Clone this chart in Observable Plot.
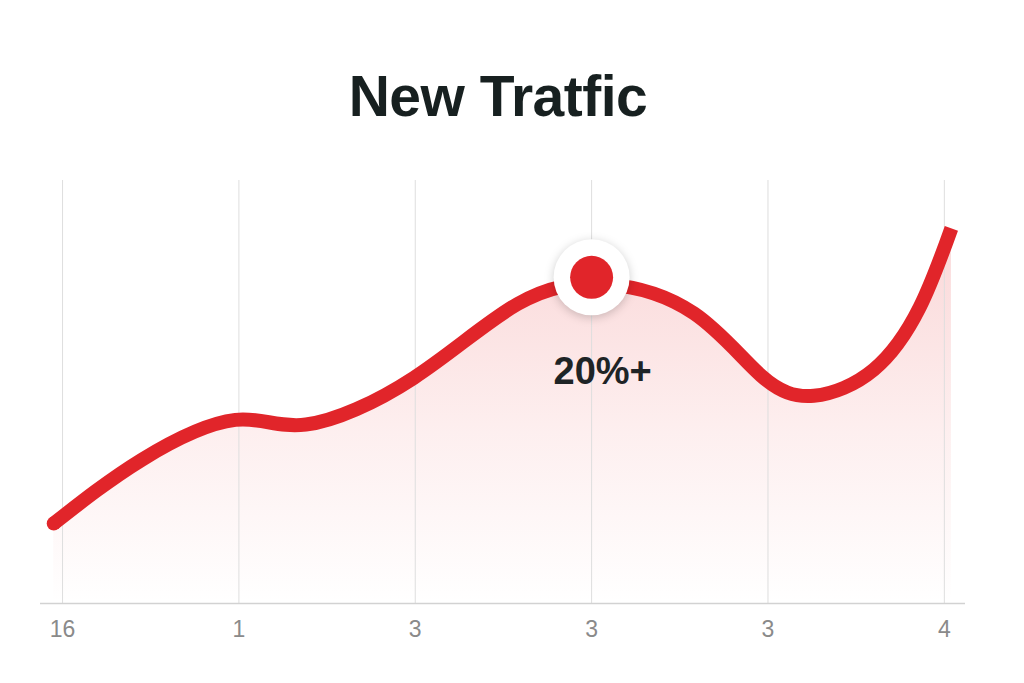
<!DOCTYPE html>
<html>
<head>
<meta charset="utf-8">
<script src="https://cdn.jsdelivr.net/npm/d3@7"></script>
<script src="https://cdn.jsdelivr.net/npm/@observablehq/plot@0.6"></script>
<style>
  html, body { margin: 0; padding: 0; background: #ffffff; width: 1024px; height: 683px; overflow: hidden; }
  #title { position: absolute; top: 68px; left: 0; width: 996px; text-align: center;
           font-family: "Liberation Sans", Arial, sans-serif; font-weight: 700; font-size: 57px;
           line-height: 57px; letter-spacing: -0.5px; color: #172020; }
  #chart { position: absolute; top: 150px; left: 0; }
</style>
</head>
<body>
<div id="title">New Tratfic</div>
<div id="chart"></div>
<script>
// Tick labels as printed on the axis (positions 0..5)
const tickPositions = [0, 1, 2, 3, 4, 5];
const tickLabels = ["16", "1", "3", "3", "3", "4"];

// Traffic curve (x in tick-position units, y in % of plot height)
const curveX = [-0.05, 0.45, 0.98, 1.38, 1.99, 2.58, 3.08, 3.58, 3.96, 4.26, 4.60, 4.86, 5.04];
const curveY = [18.9, 34.0, 43.4, 42.3, 53.3, 70.8, 75.5, 68.6, 53.9, 49.1, 55.3, 70.0, 88.7];

// Highlighted point and its label
const highlightX = [3];
const highlightY = [77.1];
const highlightLabel = ["20%+"];

const curve = curveX.map((x, i) => ({x, y: curveY[i]}));
const highlight = highlightX.map((x, i) => ({x, y: highlightY[i], label: highlightLabel[i]}));

const red = "#e1252a";

const plot = Plot.plot({
  width: 1024,
  height: 533,
  marginTop: 30,
  marginBottom: 80,
  marginLeft: 40,
  marginRight: 59,
  style: {background: "transparent", fontFamily: "'Liberation Sans', Arial, sans-serif"},
  x: {domain: [-0.125, 5.12], axis: null},
  y: {domain: [0, 100], axis: null},
  marks: [
    Plot.areaY(curve, {x: "x", y: "y", fill: "url(#areaGrad)", curve: "natural"}),
    Plot.ruleX(tickPositions, {y1: 0, y2: 100, stroke: "#dedede", strokeWidth: 1}),
    Plot.ruleY([0], {stroke: "#d2d2d2", strokeWidth: 1.5}),
    Plot.axisX({
      ticks: tickPositions,
      tickFormat: (d) => tickLabels[d],
      tickSize: 0,
      tickPadding: 17,
      fontSize: 23,
      color: "#8a8a8a",
      fill: "#8a8a8a",
      label: null
    }),
    Plot.line(curve, {x: "x", y: "y", stroke: red, strokeWidth: 14, curve: "natural", strokeLinecap: "butt", strokeLinejoin: "round"}),
    Plot.dot(curve.slice(0, 1), {x: "x", y: "y", r: 7, fill: red, stroke: "none"}),
    Plot.dot(highlight, {x: "x", y: "y", r: 38, fill: "white", stroke: "none"}),
    Plot.dot(highlight, {x: "x", y: "y", r: 21.5, fill: red, stroke: "none"}),
    Plot.text(highlight, {x: "x", y: "y", text: "label", dx: 11, dy: 94, fontSize: 38, fontWeight: 700, fill: "#1e2426"})
  ]
});

// gradient for the area fill
const svg = d3.select(plot);
const defs = svg.insert("defs", ":first-child");
const grad = defs.append("linearGradient").attr("id", "areaGrad").attr("x1", 0).attr("y1", 0).attr("x2", 0).attr("y2", 1);
grad.append("stop").attr("offset", "0%").attr("stop-color", "#e8383a").attr("stop-opacity", 0.2);
grad.append("stop").attr("offset", "55%").attr("stop-color", "#e8383a").attr("stop-opacity", 0.08);
grad.append("stop").attr("offset", "100%").attr("stop-color", "#e8383a").attr("stop-opacity", 0.0);

// soft shadow under the white ring
svg.selectAll('g[fill="white"]').style("filter", "drop-shadow(0px 2px 5px rgba(0,0,0,0.2))");

document.getElementById("chart").appendChild(plot);
</script>
</body>
</html>
